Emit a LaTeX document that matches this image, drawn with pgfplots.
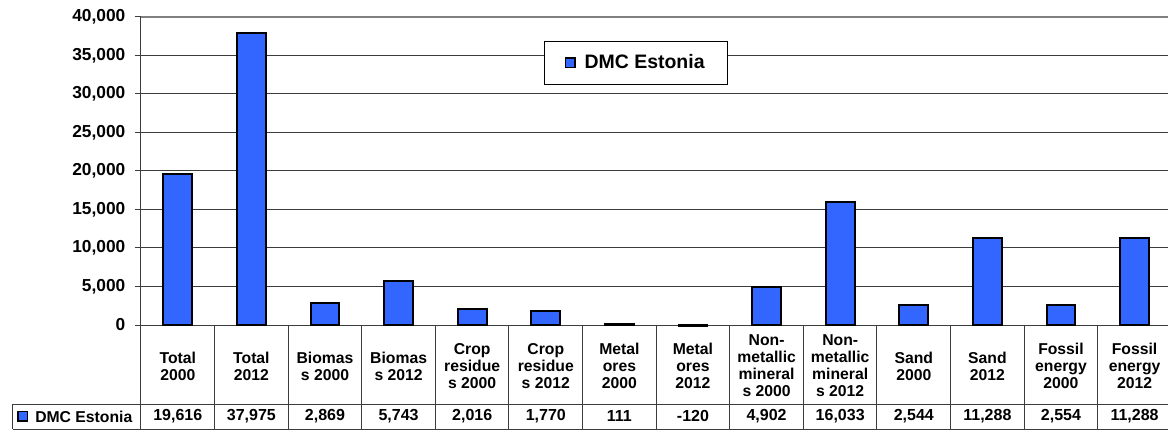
\documentclass[border=0pt]{standalone}
\usepackage{pgfplots}
\usepackage{pgfplotstable}
\pgfplotsset{compat=1.18}
\usepackage{fontspec}
\setmainfont{Liberation Sans}

\definecolor{barblue}{HTML}{3366FF}
\definecolor{rulegray}{HTML}{3C3C3C}

% Domestic material consumption, Estonia (thousand tonnes)
\pgfplotstableread{
pos value base
0  19616 0
1  37975 0
2  2869  0
3  5743  0
4  2016  0
5  1770  0
6  111   0
7  -120  0
8  4902  0
9  16033 0
10 2544  0
11 11288 0
12 2554  0
13 11288 0
}\dmc

\begin{document}
\begin{tikzpicture}
\begin{axis}[
  name=ax,
  scale only axis,
  width=770.25pt, height=231pt,
  xmin=-0.5, xmax=13.454,
  ymin=0, ymax=40000,
  ytick={0,5000,...,40000},
  scaled y ticks=false,
  /pgf/number format/1000 sep={,},
  /pgf/number format/assume math mode=true,
  yticklabel style={font=\fontsize{13}{15}\selectfont\bfseries, text=black, xshift=-3.75pt},
  xtick={0,...,13},
  xticklabels={{Total\\2000},{Total\\2012},{Biomas\\s 2000},{Biomas\\s 2012},
    {Crop\\residue\\s 2000},{Crop\\residue\\s 2012},{Metal\\ores\\2000},{Metal\\ores\\2012},
    {Non-\\metallic\\mineral\\s 2000},{Non-\\metallic\\mineral\\s 2012},
    {Sand\\2000},{Sand\\2012},{Fossil\\energy\\2000},{Fossil\\energy\\2012}},
  xticklabel style={font=\fontsize{11.8}{12.8}\selectfont\bfseries, align=center,
    anchor=center, yshift=-26.2pt, text=black},
  xtick style={draw=none},
  ytick style={draw=rulegray, line width=0.75pt},
  tick align=outside,
  major tick length=4.5pt,
  ymajorgrids,
  major grid style={rulegray, line width=0.75pt},
  axis x line*=bottom, axis y line*=left,
  axis line style={rulegray, line width=0.75pt, -},
  clip=false,
  legend style={at={(0.482,0.851)}, anchor=center, draw=black, line width=0.75pt,
    fill=white, font=\fontsize{14.6}{17}\selectfont\bfseries,
    inner xsep=15pt, inner ysep=8pt, column sep=4.5pt},
]
% plot area top border
\draw[gray, line width=1.5pt] (rel axis cs:0,1) -- (rel axis cs:1,1);

\addplot[ybar, bar width=0.39, fill=barblue, draw=black, line width=1.5pt,
  legend image code/.code={\draw[fill=barblue, draw=black, line width=1.2pt]
    (0pt,-3.6pt) rectangle (7.2pt,3.6pt);}]
  table[x=pos, y=value]{\dmc};
\addlegendentry{DMC Estonia}

% data table: value row
\addplot[draw=none, mark=none, forget plot, point meta=explicit,
  nodes near coords={\pgfmathprintnumber{\pgfplotspointmeta}},
  every node near coord/.style={anchor=center, yshift=-68.6pt,
    font=\fontsize{12}{14}\selectfont\bfseries, text=black}]
  table[x=pos, y=base, meta=value]{\dmc};

% data table rules
\pgfplotsinvokeforeach{-0.5,0.5,...,12.5}{
  \draw[rulegray, line width=0.75pt] (axis cs:#1,0) -- ([yshift=-78pt]axis cs:#1,0);
}
\draw[rulegray, line width=0.75pt]
  ([xshift=-96pt, yshift=-59.25pt]rel axis cs:0,0) -- ([yshift=-59.25pt]rel axis cs:1,0);
\draw[rulegray, line width=0.75pt]
  ([xshift=-96pt, yshift=-78pt]rel axis cs:0,0) -- ([yshift=-78pt]rel axis cs:1,0);
\draw[rulegray, line width=0.75pt]
  ([xshift=-96pt, yshift=-59.25pt]rel axis cs:0,0) -- ([xshift=-96pt, yshift=-78pt]rel axis cs:0,0);

% series key in the table row
\draw[fill=barblue, draw=black, line width=1.2pt]
  ([xshift=-92.2pt, yshift=-72.2pt]rel axis cs:0,0) rectangle ([xshift=-85pt, yshift=-65pt]rel axis cs:0,0);
\node[anchor=west, inner sep=0pt, font=\fontsize{11.8}{14}\selectfont\bfseries]
  at ([xshift=-79.5pt, yshift=-68.6pt]rel axis cs:0,0) {DMC Estonia};
\end{axis}
\pgfresetboundingbox
\path ([xshift=-105.75pt, yshift=-80.25pt]ax.south west) rectangle ([yshift=12.75pt]ax.north east);
\end{tikzpicture}
\end{document}
